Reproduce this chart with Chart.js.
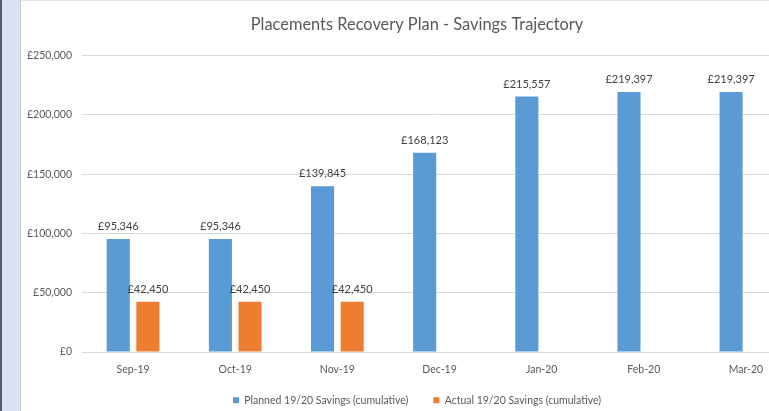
<!DOCTYPE html>
<html>
<head>
<meta charset="utf-8">
<script src="https://cdn.jsdelivr.net/npm/chart.js@4.4.0/dist/chart.umd.min.js"></script>
<style>
  html, body { margin: 0; padding: 0; width: 769px; height: 411px; overflow: hidden; background: #ffffff; }
  #edge { position: absolute; left: 0; top: 0; width: 2px; height: 411px; background: #5a5c63; }
  #strip { position: absolute; left: 2px; top: 0; width: 18px; height: 411px; background: #dae3f3; border-right: 1px solid #c9ccd2; }
  #wrap { position: absolute; left: 21px; top: 0; width: 792px; height: 411px; border-top: 1px solid #e3e3e3; box-sizing: border-box; }
</style>
</head>
<body>
<div id="edge"></div>
<div id="strip"></div>
<div id="wrap"><canvas id="myChart" width="792" height="410"></canvas></div>
<script>
const months = ['Sep-19', 'Oct-19', 'Nov-19', 'Dec-19', 'Jan-20', 'Feb-20', 'Mar-20'];
const planned = [95346, 95346, 139845, 168123, 215557, 219397, 219397];
const actual = [42450, 42450, 42450, null, null, null, null];
const yTicks = [0, 50000, 100000, 150000, 200000, 250000];

const fontFamily = 'Lato, "Open Sans", sans-serif';

function money(v) {
    return '£' + v.toLocaleString('en-GB');
}

// simple value labels above each bar
const valueLabels = {
    id: 'valueLabels',
    afterDatasetsDraw(chart) {
        const ctx = chart.ctx;
        ctx.save();
        ctx.font = '11px ' + fontFamily;
        ctx.fillStyle = '#404040';
        ctx.textAlign = 'center';
        ctx.textBaseline = 'bottom';
        chart.data.datasets.forEach((ds, i) => {
            chart.getDatasetMeta(i).data.forEach((bar, j) => {
                if (ds.data[j] == null) return;
                ctx.fillText(money(ds.data[j]), bar.x, bar.y - 7);
            });
        });
        ctx.restore();
    }
};

function createChart() {
    const ctx = document.getElementById('myChart').getContext('2d');
    new Chart(ctx, {
        type: 'bar',
        data: {
            labels: months,
            datasets: [{
                label: 'Planned 19/20 Savings (cumulative)',
                data: planned,
                backgroundColor: '#5b9bd5',
                categoryPercentage: 0.58,
                barPercentage: 0.78
            }, {
                label: 'Actual 19/20 Savings (cumulative)',
                data: actual,
                backgroundColor: '#ed7d31',
                categoryPercentage: 0.58,
                barPercentage: 0.78
            }]
        },
        options: {
            responsive: false,
            animation: false,
            layout: { padding: 0 },
            plugins: {
                title: {
                    display: true,
                    text: 'Placements Recovery Plan - Savings Trajectory',
                    color: '#595959',
                    font: { family: fontFamily, size: 16.4, weight: 'normal' },
                    padding: { top: 14, bottom: 21 }
                },
                legend: {
                    position: 'bottom',
                    maxHeight: 33,
                    labels: {
                        color: '#595959',
                        font: { family: fontFamily, size: 10.5 },
                        boxWidth: 6,
                        boxHeight: 6,
                        padding: 17,
                        generateLabels: chart => {
                            const items = Chart.defaults.plugins.legend.labels.generateLabels(chart);
                            items[0].text += '   '; // a little more room between the two entries
                            return items;
                        }
                    }
                },
                tooltip: { enabled: false }
            },
            scales: {
                x: {
                    grid: { display: false, drawTicks: false },
                    border: { color: '#d9d9d9' },
                    afterFit: scale => { scale.height = 26; },
                    ticks: { color: '#595959', font: { family: fontFamily, size: 10.5 }, padding: 11 }
                },
                y: {
                    min: 0,
                    max: 250000,
                    afterBuildTicks: scale => { scale.ticks = yTicks.map(v => ({ value: v })); },
                    afterFit: scale => { scale.width = 61; },
                    grid: { color: '#d9d9d9', drawTicks: false },
                    border: { display: false },
                    ticks: {
                        color: '#595959',
                        font: { family: fontFamily, size: 10.5 },
                        padding: 10,
                        callback: v => money(v)
                    }
                },
                // empty right-hand axis, only keeps the plot clear of the right edge
                yRight: {
                    type: 'linear',
                    position: 'right',
                    min: 0,
                    max: 1,
                    afterFit: scale => { scale.width = 16; },
                    grid: { display: false },
                    border: { display: false },
                    ticks: { display: false }
                }
            }
        },
        plugins: [valueLabels]
    });
}

document.addEventListener('DOMContentLoaded', () => {
    createChart();
});
</script>
</body>
</html>
